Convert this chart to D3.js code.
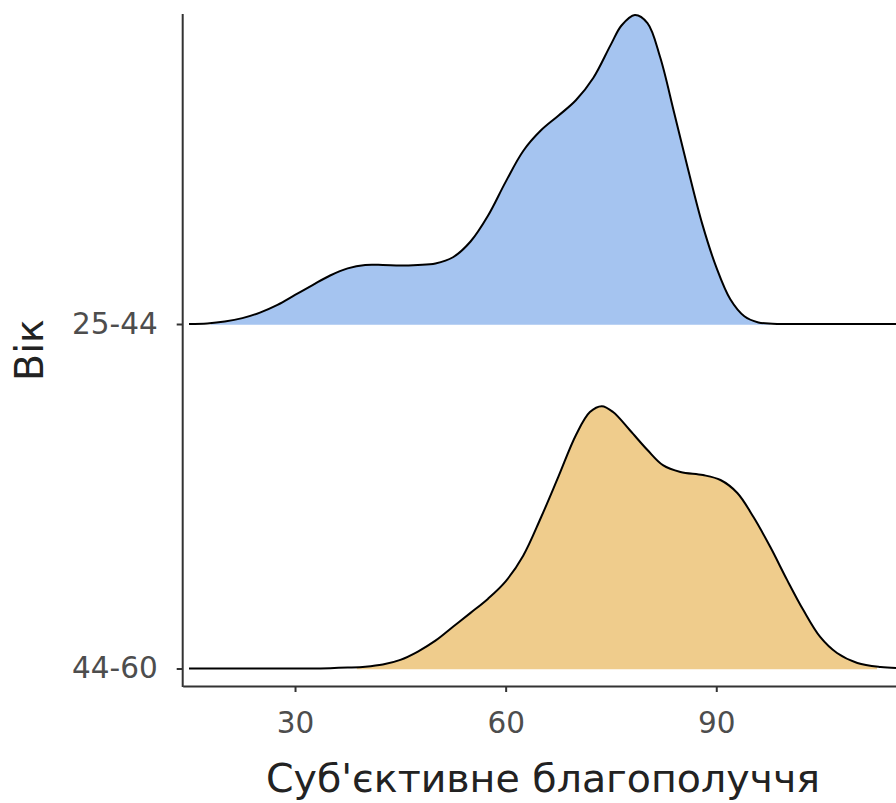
<!DOCTYPE html>
<html>
<head>
<meta charset="utf-8">
<script src="https://cdn.jsdelivr.net/npm/d3@7"></script>
<style>
  html, body { margin: 0; padding: 0; background: #fff; }
  svg { display: block; font-family: "DejaVu Sans", sans-serif; }
</style>
</head>
<body>
<svg id="chart" width="896" height="803"></svg>
<script>
// Age groups, top to bottom
const ages = ["25-44", "44-60"];

// Density estimates of subjective well-being (relative units) for 25-44
const xs2544 = [14.9, 17.5, 20, 22.5, 25, 27.5, 30, 32.5, 35, 37.5, 40, 42.5, 45, 47.5, 50, 52.5, 55, 57.5,
  60, 62.5, 65, 67.5, 70, 72.5, 75, 76.5, 78.4, 80.2, 82, 84, 86, 88, 90, 92, 94, 96, 98, 100, 105, 115.6];
const dens2544 = [0, 0.002, 0.008, 0.019, 0.037, 0.062, 0.094, 0.126, 0.157, 0.180, 0.191, 0.191, 0.189, 0.191, 0.196, 0.216, 0.267, 0.351,
  0.460, 0.560, 0.626, 0.674, 0.724, 0.797, 0.905, 0.966, 1.000, 0.974, 0.864, 0.684, 0.499, 0.324, 0.184, 0.080, 0.025, 0.005, 0.001, 0, 0, 0];

// Density estimates for 44-60
const xs4460 = [14.9, 25, 32, 35, 37.5, 40, 42.5, 45, 47.5, 50, 52.5, 55, 57.5, 60, 62.5, 65, 67.5, 70, 72,
  73.7, 75.3, 77.7, 80.2, 82.4, 84.9, 88.1, 90.6, 93.0, 95.3, 97.7, 100.1, 102.4, 104.8, 107.2, 110.1, 113.4, 115.6];
const dens4460 = [0, 0, 0, 0.001, 0.003, 0.006, 0.013, 0.028, 0.055, 0.090, 0.135, 0.180, 0.226, 0.282, 0.365, 0.487, 0.620, 0.755, 0.830,
  0.849, 0.830, 0.771, 0.707, 0.658, 0.636, 0.626, 0.610, 0.568, 0.490, 0.393, 0.286, 0.189, 0.102, 0.050, 0.018, 0.005, 0.002];

// Observed data range of each group (shaded part of each ridge)
const range2544 = [18, 97.7];
const range4460 = [38.8, 112.9];

const xTicks = [30, 60, 90];
const fills = ["#A5C4F0", "#EFCC8C"];
const xTitle = "Суб'єктивне благополуччя";
const yTitle = "Вік";

const svg = d3.select("#chart");

const x = d3.scaleLinear().domain([14, 115.6]).range([182.7, 896]);
const y = d3.scalePoint().domain(ages).range([324, 668.5]);
const h = d3.scaleLinear().domain([0, 1]).range([0, 309]);

const series = [
  { age: ages[0], xs: xs2544, ds: dens2544, range: range2544, fill: fills[0] },
  { age: ages[1], xs: xs4460, ds: dens4460, range: range4460, fill: fills[1] }
];

const defs = svg.append("defs");
const curve = d3.curveCatmullRom.alpha(0.5);

series.forEach((s, i) => {
  const base = y(s.age);
  const pts = s.xs.map((v, j) => [v, s.ds[j]]);
  const area = d3.area()
    .x(d => x(d[0]))
    .y0(base + 0.8)
    .y1(d => base - h(d[1]))
    .curve(curve);
  const line = d3.line()
    .x(d => x(d[0]))
    .y(d => base - h(d[1]))
    .curve(curve);

  const clipId = "clip-" + i;
  defs.append("clipPath").attr("id", clipId)
    .append("rect")
    .attr("x", x(s.range[0]))
    .attr("y", 0)
    .attr("width", x(s.range[1]) - x(s.range[0]))
    .attr("height", 803);

  svg.append("path")
    .datum(pts)
    .attr("d", area)
    .attr("fill", s.fill)
    .attr("clip-path", `url(#${clipId})`);

  svg.append("path")
    .datum(pts)
    .attr("d", line)
    .attr("fill", "none")
    .attr("stroke", "#000")
    .attr("stroke-width", 2);
});

// Axes
const axisColor = "#333333";
const labelColor = "#4d4d4d";

const xAxis = svg.append("g")
  .attr("transform", "translate(0,686)")
  .call(d3.axisBottom(x).tickValues(xTicks).tickSize(6).tickPadding(20).tickSizeOuter(0));
xAxis.select(".domain").attr("stroke", axisColor).attr("stroke-width", 2);
xAxis.selectAll(".tick line").attr("stroke", axisColor).attr("stroke-width", 2);
xAxis.selectAll(".tick text")
  .attr("fill", labelColor)
  .attr("font-size", 29.5)
  .attr("font-family", "DejaVu Sans");

const yAxis = svg.append("g")
  .attr("transform", "translate(182.7,0)")
  .call(d3.axisLeft(y).tickSize(6).tickPadding(19).tickSizeOuter(0));
yAxis.select(".domain").remove();
yAxis.append("line")
  .attr("x1", 0).attr("x2", 0)
  .attr("y1", 14).attr("y2", 687)
  .attr("stroke", axisColor).attr("stroke-width", 2);
yAxis.selectAll(".tick line").attr("stroke", axisColor).attr("stroke-width", 2);
yAxis.selectAll(".tick text")
  .attr("fill", labelColor)
  .attr("font-size", 29.5)
  .attr("font-family", "DejaVu Sans");

// Axis titles
svg.append("text")
  .attr("x", 543)
  .attr("y", 792)
  .attr("text-anchor", "middle")
  .attr("font-size", 39.5)
  .attr("fill", "#222")
  .text(xTitle);

svg.append("text")
  .attr("transform", "translate(43,350) rotate(-90)")
  .attr("text-anchor", "middle")
  .attr("font-size", 39.5)
  .attr("fill", "#222")
  .text(yTitle);
</script>
</body>
</html>
